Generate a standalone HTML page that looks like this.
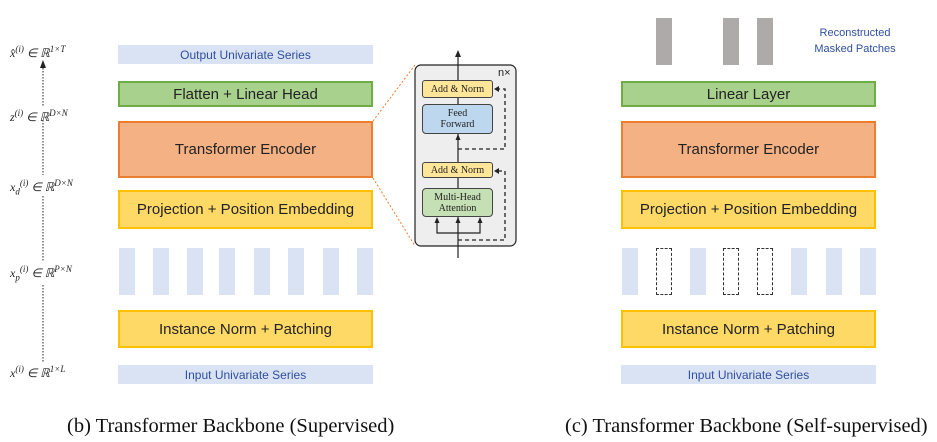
<!DOCTYPE html>
<html><head><meta charset="utf-8"><style>
body{margin:0;width:937px;height:442px;background:#fff;overflow:hidden;position:relative;font-family:"Liberation Sans",sans-serif}
.b{position:absolute;box-sizing:border-box;display:flex;align-items:center;justify-content:center;color:#222}
.s{background:#dae3f3;color:#2f4f9f;font-size:12px}
.g{background:#a9d18e;border:2px solid #70ad47;font-size:15px}
.o{background:#f4b183;border:2px solid #ed7d31;font-size:15px}
.y{background:#ffd966;border:2px solid #ffc000;font-size:15px}
.p{position:absolute;width:16px;height:47px;top:248px;background:#dae3f3}
.d{position:absolute;width:16px;height:47px;top:248px;box-sizing:border-box;border:1.3px dashed #333}
.gr{position:absolute;width:16px;height:47px;top:18px;background:#aeaaaa}
.m{position:absolute;font-family:"Liberation Serif",serif;font-style:italic;font-size:12px;line-height:14px;color:#222;white-space:nowrap}
.m sup,.m sub{font-size:9px;line-height:0}
.cap{position:absolute;top:415px;font-family:"Liberation Serif",serif;font-size:20.5px;color:#111;white-space:nowrap}
</style></head><body>
<div class="m" style="left:10px;top:46px">x̂<sup>(i)</sup> ∈ ℝ<sup>1×T</sup></div>
<div class="m" style="left:10px;top:110px">z<sup>(i)</sup> ∈ ℝ<sup>D×N</sup></div>
<div class="m" style="left:10px;top:180px">x<sub>d</sub><sup>(i)</sup> ∈ ℝ<sup>D×N</sup></div>
<div class="m" style="left:10px;top:266px">x<sub>p</sub><sup>(i)</sup> ∈ ℝ<sup>P×N</sup></div>
<div class="m" style="left:10px;top:366px">x<sup>(i)</sup> ∈ ℝ<sup>1×L</sup></div>
<svg style="position:absolute;left:0;top:0" width="937" height="442">
<g stroke="#222" stroke-width="1" stroke-dasharray="1.5,1.5">
<line x1="43" y1="65" x2="43" y2="106"/><line x1="43" y1="120" x2="43" y2="175"/><line x1="43" y1="196" x2="43" y2="262"/><line x1="43" y1="285" x2="43" y2="362"/></g>
<polygon points="40,68 46,68 43,60" fill="#222"/>
<g stroke="#ed7d31" stroke-width="1" stroke-dasharray="2,2"><line x1="373" y1="121" x2="415" y2="65"/><line x1="373" y1="178" x2="415" y2="246"/></g>
<rect x="415" y="65" width="101" height="181" rx="6" fill="#eeeeee" stroke="#222" stroke-width="1.2"/>
<line x1="458" y1="258" x2="458" y2="56" stroke="#222" stroke-width="1.2"/>
<polygon points="455,57 461,57 458,50" fill="#222"/>
<path d="M437,223 V233 H480 V223" fill="none" stroke="#222" stroke-width="1.2"/>
<polygon points="434.5,223 439.5,223 437,217" fill="#222"/><polygon points="455.5,223 460.5,223 458,217" fill="#222"/><polygon points="477.5,223 482.5,223 480,217" fill="#222"/>
<polygon points="455.5,140 460.5,140 458,134" fill="#222"/>
<g fill="none" stroke="#222" stroke-width="1.3" stroke-dasharray="4,3"><path d="M458,240 H505 V171 H498"/><path d="M458,149 H505 V89 H498"/></g>
<polygon points="494,171 499,168 499,174" fill="#222"/><polygon points="494,89 499,86 499,92" fill="#222"/>
</svg>
<div class="b" style="left:422px;top:80px;width:71px;height:18px;background:#ffe699;border:1px solid #444;border-radius:3px;font-family:'Liberation Serif',serif;font-size:10px">Add &amp; Norm</div>
<div class="b" style="left:422px;top:104px;width:71px;height:30px;background:#bdd7ee;border:1px solid #444;border-radius:4px;font-family:'Liberation Serif',serif;font-size:10px;text-align:center;line-height:11px">Feed<br>Forward</div>
<div class="b" style="left:422px;top:162px;width:71px;height:16px;background:#ffe699;border:1px solid #444;border-radius:3px;font-family:'Liberation Serif',serif;font-size:10px">Add &amp; Norm</div>
<div class="b" style="left:422px;top:188px;width:71px;height:29px;background:#c5e0b4;border:1px solid #444;border-radius:4px;font-family:'Liberation Serif',serif;font-size:10px;text-align:center;line-height:11px">Multi-Head<br>Attention</div>
<div style="position:absolute;left:498px;top:67px;font-size:11px;color:#222">n×</div>

<div class="b s" style="left:118px;top:45px;width:255px;height:19px">Output Univariate Series</div>
<div class="b g" style="left:118px;top:81px;width:255px;height:26px">Flatten + Linear Head</div>
<div class="b o" style="left:118px;top:121px;width:255px;height:57px">Transformer Encoder</div>
<div class="b y" style="left:118px;top:190px;width:255px;height:39px">Projection + Position Embedding</div>
<div class="p" style="left:119px"></div><div class="p" style="left:153px"></div><div class="p" style="left:187px"></div><div class="p" style="left:219px"></div><div class="p" style="left:254px"></div><div class="p" style="left:288px"></div><div class="p" style="left:323px"></div><div class="p" style="left:357px"></div>
<div class="b y" style="left:118px;top:310px;width:255px;height:38px">Instance Norm + Patching</div>
<div class="b s" style="left:118px;top:365px;width:255px;height:19px">Input Univariate Series</div>

<div class="gr" style="left:656px"></div><div class="gr" style="left:723px"></div><div class="gr" style="left:757px"></div>
<div style="position:absolute;left:800px;top:25px;width:110px;text-align:center;font-size:11px;line-height:16px;color:#2f4f9f">Reconstructed<br>Masked Patches</div>
<div class="b g" style="left:621px;top:81px;width:255px;height:26px">Linear Layer</div>
<div class="b o" style="left:621px;top:121px;width:255px;height:57px">Transformer Encoder</div>
<div class="b y" style="left:621px;top:190px;width:255px;height:39px">Projection + Position Embedding</div>
<div class="p" style="left:622px"></div><div class="d" style="left:656px"></div><div class="p" style="left:690px"></div><div class="d" style="left:723px"></div><div class="d" style="left:757px"></div><div class="p" style="left:791px"></div><div class="p" style="left:826px"></div><div class="p" style="left:860px"></div>
<div class="b y" style="left:621px;top:310px;width:255px;height:38px">Instance Norm + Patching</div>
<div class="b s" style="left:621px;top:365px;width:255px;height:19px">Input Univariate Series</div>

<div class="cap" style="left:67px">(b) Transformer Backbone (Supervised)</div>
<div class="cap" style="left:565px">(c) Transformer Backbone (Self-supervised)</div>
</body></html>
